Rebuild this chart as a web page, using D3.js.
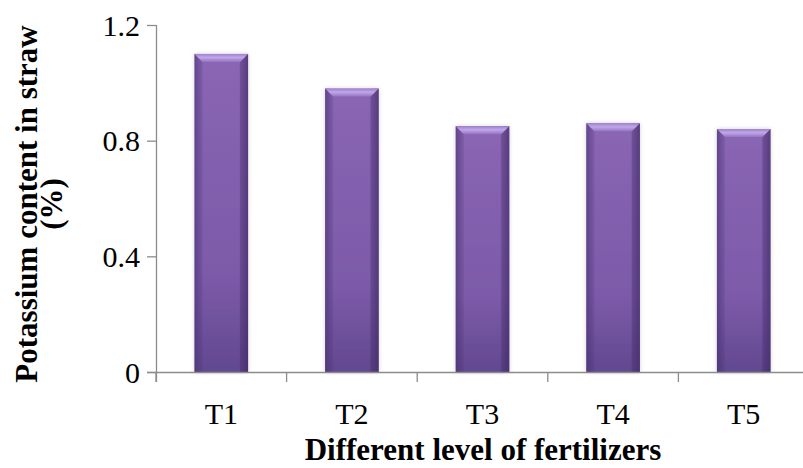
<!DOCTYPE html>
<html>
<head>
<meta charset="utf-8">
<script src="https://cdn.jsdelivr.net/npm/d3@7"></script>
<style>
  html, body { margin: 0; padding: 0; background: #ffffff; }
  svg { display: block; }
</style>
</head>
<body>
<svg id="chart" width="803" height="468"></svg>
<script>
// Potassium content in straw for each fertilizer level
const treatments = ["T1", "T2", "T3", "T4", "T5"];
const potassium = [1.10, 0.98, 0.85, 0.86, 0.84];
const yTicks = [0, 0.4, 0.8, 1.2];
const yTitleLines = ["Potassium content in straw", "(%)"];
const xTitle = "Different level of fertilizers";

(function () {
const svg = d3.select("#chart");
const plotL = 156, plotR = 809, plotT = 25, plotB = 372;
const axisColor = "#8c8c8c";
const serif = "'Liberation Serif', 'Times New Roman', serif";

const x = d3.scaleBand().domain(treatments).range([plotL, plotR]).paddingInner(0).paddingOuter(0);
const y = d3.scaleLinear().domain([0, 1.2]).range([plotB, plotT]);

// gradients for the bevelled bars
const defs = svg.append("defs");
const body = defs.append("linearGradient").attr("id", "barBody")
  .attr("x1", 0).attr("y1", 0).attr("x2", 0).attr("y2", 1);
body.append("stop").attr("offset", "0%").attr("stop-color", "#8a66b4");
body.append("stop").attr("offset", "70%").attr("stop-color", "#7c5aa9");
body.append("stop").attr("offset", "100%").attr("stop-color", "#62488f");

const sides = defs.append("linearGradient").attr("id", "barSides")
  .attr("x1", 0).attr("y1", 0).attr("x2", 1).attr("y2", 0);
sides.append("stop").attr("offset", "0%").attr("stop-color", "#3f2a66").attr("stop-opacity", 0.45);
sides.append("stop").attr("offset", "14%").attr("stop-color", "#3f2a66").attr("stop-opacity", 0.0);
sides.append("stop").attr("offset", "82%").attr("stop-color", "#3f2a66").attr("stop-opacity", 0.0);
sides.append("stop").attr("offset", "100%").attr("stop-color", "#3f2a66").attr("stop-opacity", 0.55);

const topGrad = defs.append("linearGradient").attr("id", "barTop")
  .attr("x1", 0).attr("y1", 0).attr("x2", 0).attr("y2", 1);
topGrad.append("stop").attr("offset", "0%").attr("stop-color", "#9f82cb");
topGrad.append("stop").attr("offset", "45%").attr("stop-color", "#c0a6ea");
topGrad.append("stop").attr("offset", "100%").attr("stop-color", "#9474c0");

const shadow = defs.append("filter").attr("id", "barShadow")
  .attr("x", "-20%").attr("y", "-10%").attr("width", "140%").attr("height", "120%");
shadow.append("feDropShadow").attr("dx", 0).attr("dy", 0).attr("stdDeviation", 2)
  .attr("flood-color", "#000").attr("flood-opacity", 0.18);

// bars
const barW = x.step() * 0.41;
const bev = 8;
const bars = svg.append("g").selectAll("g.bar")
  .data(treatments.map((t, i) => ({ t, v: potassium[i] })))
  .join("g").attr("class", "bar");

bars.each(function (d) {
  const g = d3.select(this);
  const x0 = x(d.t) + (x.bandwidth() - barW) / 2;
  const x1 = x0 + barW;
  const y0 = y(d.v);
  const y1 = y(0);
  g.append("rect").attr("x", x0).attr("y", y0).attr("width", barW).attr("height", y1 - y0)
    .attr("fill", "url(#barBody)").attr("filter", "url(#barShadow)");
  g.append("rect").attr("x", x0).attr("y", y0).attr("width", barW).attr("height", y1 - y0)
    .attr("fill", "url(#barSides)");
  // left and right bevel faces
  g.append("polygon")
    .attr("points", [[x0, y0], [x0 + bev, y0 + bev], [x0 + bev, y1], [x0, y1]].join(" "))
    .attr("fill", "#4a3275").attr("fill-opacity", 0.18);
  g.append("polygon")
    .attr("points", [[x1, y0], [x1 - bev, y0 + bev], [x1 - bev, y1], [x1, y1]].join(" "))
    .attr("fill", "#3a2560").attr("fill-opacity", 0.25);
  // top bevel face
  g.append("polygon")
    .attr("points", [[x0, y0], [x1, y0], [x1 - bev, y0 + bev], [x0 + bev, y0 + bev]].join(" "))
    .attr("fill", "url(#barTop)");
});

// y axis
const yAxis = svg.append("g").attr("transform", `translate(${plotL},0)`)
  .call(d3.axisLeft(y).tickValues(yTicks).tickSize(9).tickSizeOuter(0)
    .tickFormat(d => d === 0 ? "0" : d3.format(".1f")(d)));
yAxis.attr("font-size", 30).attr("font-family", serif);
yAxis.select(".domain").attr("stroke", axisColor).attr("stroke-width", 1.3)
  .attr("d", `M0.5,${plotT}V${plotB + 10}`);
yAxis.selectAll(".tick line").attr("stroke", axisColor).attr("stroke-width", 1.3);
yAxis.selectAll(".tick text").style("font-size", "30px").style("font-family", serif)
  .attr("fill", "#000").attr("x", -16).attr("dy", "0.34em");

// x axis: labels centred in bands, ticks at band boundaries
const xAxis = svg.append("g").attr("transform", `translate(0,${plotB})`)
  .call(d3.axisBottom(x).tickSize(0).tickSizeOuter(0));
xAxis.attr("font-size", 30).attr("font-family", serif);
xAxis.select(".domain").attr("stroke", axisColor).attr("stroke-width", 1.3)
  .attr("d", `M${plotL - 9},0.5H${plotR}`);
xAxis.selectAll(".tick text").style("font-size", "30px").style("font-family", serif)
  .attr("fill", "#000").attr("dy", 0).attr("y", 52);
const bounds = treatments.map(t => x(t)).concat([x(treatments[treatments.length - 1]) + x.step()]);
xAxis.selectAll("line.bound").data(bounds).join("line").attr("class", "bound")
  .attr("x1", d => d).attr("x2", d => d).attr("y1", 0).attr("y2", 10)
  .attr("stroke", axisColor).attr("stroke-width", 1.3);

// axis titles
svg.append("text").attr("x", 483).attr("y", 460)
  .attr("text-anchor", "middle").attr("font-family", serif).attr("font-weight", "bold")
  .attr("font-size", 31).attr("fill", "#000").text(xTitle);

const yT = svg.append("text").attr("transform", `translate(37,204) rotate(-90)`)
  .attr("text-anchor", "middle").attr("font-family", serif).attr("font-weight", "bold")
  .attr("font-size", 31).attr("fill", "#000");
yTitleLines.forEach((line, i) => {
  yT.append("tspan").attr("x", 0).attr("dy", i === 0 ? 0 : 25).text(line);
});
})();
</script>
</body>
</html>
